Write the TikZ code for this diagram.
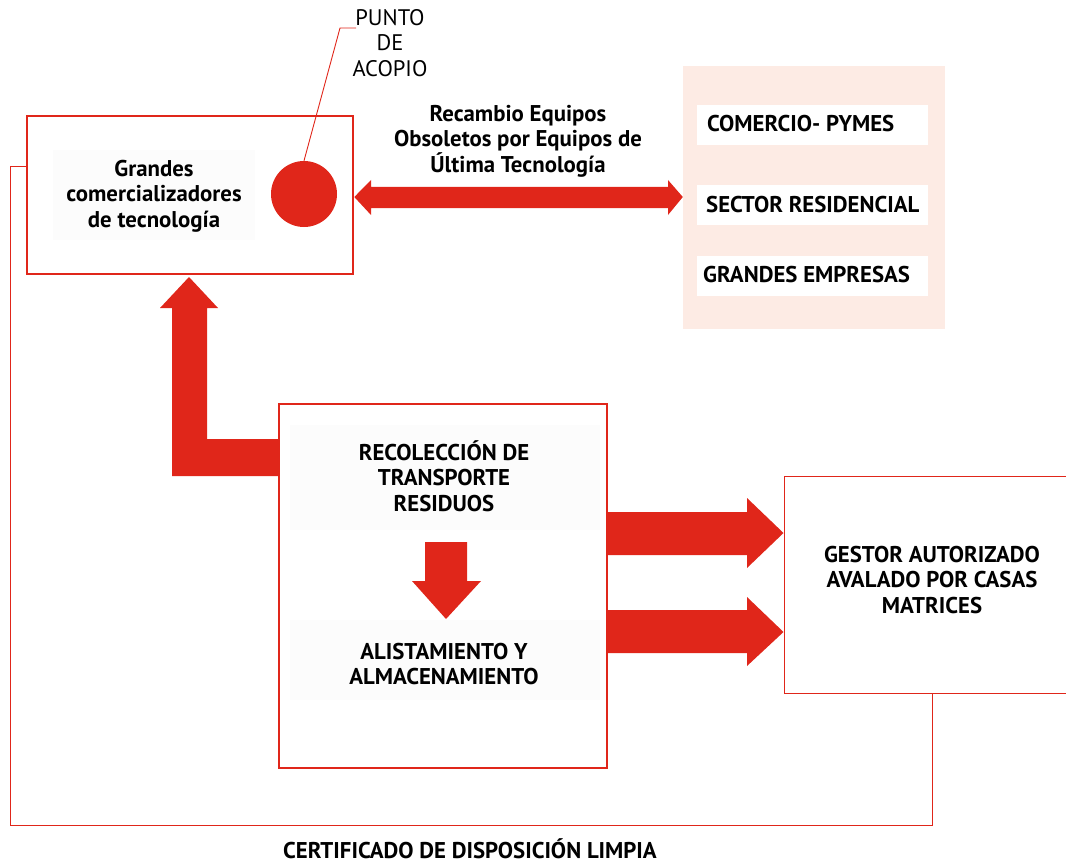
\documentclass[tikz,border=0pt]{standalone}
\usepackage{fontspec}
\setmainfont{PT Sans}
\definecolor{cred}{RGB}{224,38,26}
\definecolor{cpink}{RGB}{253,235,228}
\definecolor{cfaint}{RGB}{252,252,252}
\begin{document}
\begin{tikzpicture}[x=1pt,y=-1pt,
  redbox/.style={draw=cred,rectangle,inner sep=0pt},
  lbl/.style={font=\fontsize{22.8}{25.5}\selectfont\bfseries,align=center,text=black},
  thin/.style={font=\fontsize{22.5}{25.5}\selectfont,align=center,text=black},
  whitebox/.style={fill=white,minimum width=231pt,minimum height=40pt,inner sep=0pt,anchor=west},
  blockarrow/.style={fill=cred,draw=none},
  loopline/.style={draw=cred,line width=1pt}]
\useasboundingbox (0,0) rectangle (1066,864);
% top-left box
\node[redbox,line width=2.6pt,minimum width=326pt,minimum height=158pt] (grandes) at (190,195) {};
\fill[cfaint] (53,150) rectangle (255,240);
\node[lbl] (grandesT) at (154,196) {Grandes\\comercializadores\\de tecnología};
\node[circle,fill=cred,minimum size=66pt,inner sep=0pt] (acopio) at (304,194) {};
\node[thin] (puntoT) at (390,43) {PUNTO\\DE\\ACOPIO};
\coordinate (lk) at (340,28);
\draw[cred,line width=0.9pt] (acopio.north) -- (lk) -- (356,28);
% pink panel
\node[fill=cpink,minimum width=262pt,minimum height=263pt,inner sep=0pt] (panel) at (814,197.5) {};
\node[whitebox] (com) at (697,125) {};
\node[whitebox] (sec) at (697,205) {};
\node[whitebox] (gra) at (697,276) {};
\node[lbl,anchor=west,inner sep=0pt] at (707,124) {COMERCIO- PYMES};
\node[lbl,anchor=west,inner sep=0pt] at (706,205) {SECTOR RESIDENCIAL};
\node[lbl,anchor=west,inner sep=0pt] at (703,275) {GRANDES EMPRESAS};
% double arrow
\fill[blockarrow] (grandes.east |- 0,197) -- (371,180) -- (371,187) -- (668,187) -- (668,180)
  -- (panel.west |- 0,197) -- (668,215) -- (668,208) -- (371,208) -- (371,215) -- cycle;
\node[lbl] (recT) at (518,141) {Recambio Equipos\\Obsoletos por Equipos de\\Última Tecnología};
% middle box
\node[redbox,line width=2pt,minimum width=328pt,minimum height=364pt] (recol) at (443,586) {};
\fill[cfaint] (290,425) rectangle (600,530);
\fill[cfaint] (290,620) rectangle (600,700);
\node[lbl] (recolT) at (444,476) {RECOLECCIÓN DE\\TRANSPORTE\\RESIDUOS};
\node[lbl] (aliT) at (444,664) {ALISTAMIENTO Y\\ALMACENAMIENTO};
\fill[blockarrow] (425,542) -- (467,542) -- (467,581) -- (481,581) -- (446,619) -- (412,581) -- (425,581) -- cycle;
% L-shaped up arrow
\fill[blockarrow] (recol.west |- 0,439) -- (207,439) -- (207,308) -- (218,308) -- (189,277)
  -- (160,308) -- (172,308) -- (172,476) -- (recol.west |- 0,476) -- cycle;
% gestor box
\node[redbox,line width=1pt,minimum width=296pt,minimum height=217pt] (gestor) at (932,584.5) {};
\node[lbl] (gestorT) at (932,580) {GESTOR AUTORIZADO\\AVALADO POR CASAS\\MATRICES};
% right arrows
\fill[blockarrow] (recol.east |- 0,512) -- (747,512) -- (747,498) -- (gestor.west |- 0,533) -- (747,568) -- (747,555) -- (recol.east |- 0,555) -- cycle;
\fill[blockarrow] (recol.east |- 0,610) -- (747,610) -- (747,597) -- (gestor.west |- 0,632) -- (747,666) -- (747,653) -- (recol.east |- 0,653) -- cycle;
% loop line
\coordinate (c1) at (932,825);
\coordinate (c2) at (10,825);
\coordinate (c3) at (10,167);
\draw[loopline] (gestor.south) -- (c1) -- (c2) -- (c3) -- (grandes.west |- c3);
\node[lbl,anchor=base,inner sep=0pt] (certT) at (470,858) {CERTIFICADO DE DISPOSICIÓN LIMPIA};
\end{tikzpicture}
\end{document}
